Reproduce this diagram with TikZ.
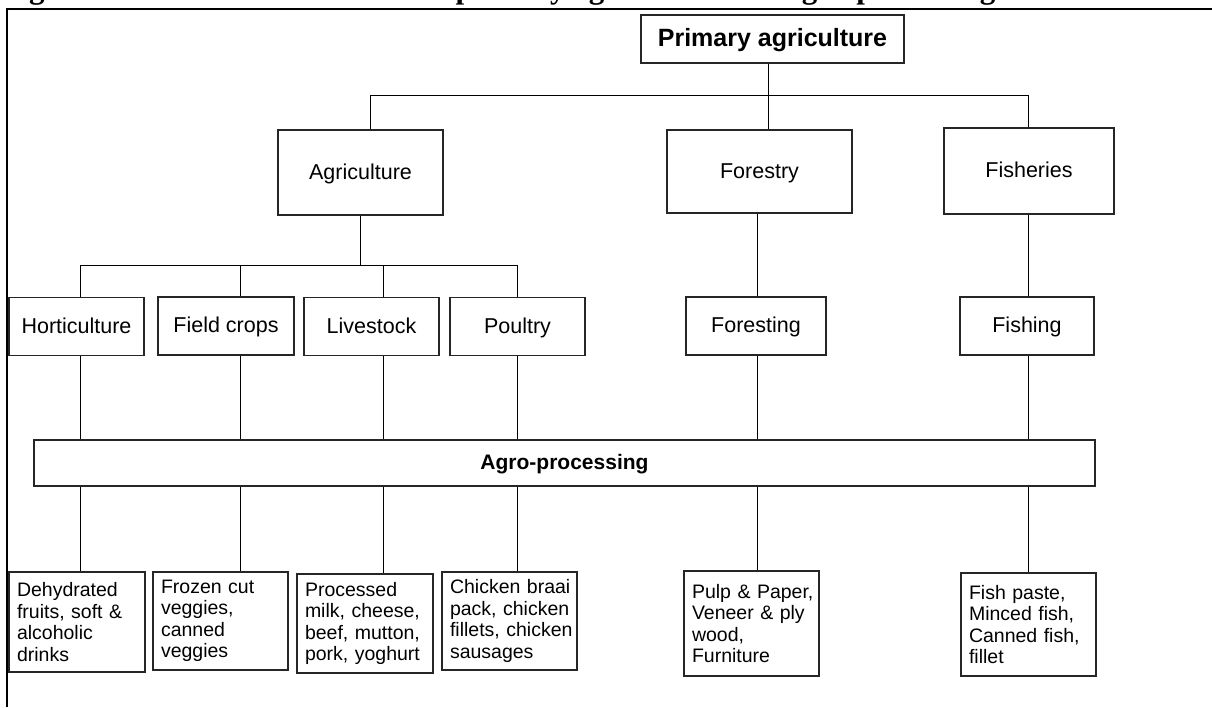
\documentclass[tikz,border=0pt]{standalone}
\usepackage{fontspec}
\setmainfont{Liberation Sans}
\newfontfamily\titlefont{Liberation Serif}
\newcommand\nohyph{\hyphenpenalty=10000\relax\exhyphenpenalty=10000\relax}
\begin{document}
\begin{tikzpicture}[x=1pt,y=-1pt,
  line width=1pt,
  box/.style={draw=black!85, line width=1.1pt, rectangle, inner sep=0pt,
    text height=15pt, text depth=1.5pt,
    font=\fontsize{21.5}{25}\selectfont},
  headbox/.style={box, font=\bfseries\fontsize{21}{25}\selectfont},
  prodbox/.style={draw=black!85, line width=1.1pt, rectangle, inner xsep=8pt,
    inner ysep=0pt, align=left,
    font=\fontsize{19.5}{21.5}\selectfont\nohyph},
  caption/.style={anchor=base west, inner sep=0pt,
    font=\titlefont\bfseries\fontsize{31}{34}\selectfont},
  link/.style={draw=black, line width=1pt}]
\useasboundingbox (0,0) rectangle (1212,707);
% caption line above the frame, cut by the top edge of the page
\begin{scope}
  \clip (0,0) rectangle (1212,8);
  \node[caption] (capa) at (1,-2) {Figure};
  \node[caption] (capb) at (455,-2) {primary agriculture and agro-processing};
\end{scope}
% page frame
\draw[line width=2.2pt] (7,707) -- (7,9) -- (1212,9);

% level 0
\node[headbox, minimum width=263pt, minimum height=48pt, text height=17pt, text depth=3pt,
  font=\bfseries\fontsize{25}{28}\selectfont] (prim) at (772.5,39) {Primary agriculture};
% level 1
\node[box, minimum width=165pt, minimum height=85pt] (agri) at (360.5,172.5) {Agriculture};
\node[box, minimum width=185pt, minimum height=83pt] (fore) at (759.5,171.5) {Forestry};
\node[box, minimum width=170pt, minimum height=86pt] (fish) at (1029,171) {Fisheries};
% level 2
\node[box, minimum width=135pt, minimum height=58pt] (hort) at (76.5,326.5) {Horticulture};
\node[box, minimum width=136pt, minimum height=58pt] (field) at (226,326) {Field crops};
\node[box, minimum width=135pt, minimum height=58pt] (live) at (371.5,326.5) {Livestock};
\node[box, minimum width=135pt, minimum height=58pt] (poul) at (517.5,326.5) {Poultry};
\node[box, minimum width=140pt, minimum height=58pt] (fring) at (756,326) {Foresting};
\node[box, minimum width=134pt, minimum height=58pt] (fshg) at (1027,326) {Fishing};
% processing bar
\node[headbox, minimum width=1061pt, minimum height=46pt] (agro) at (564.5,463) {Agro-processing};
% products
\node[prodbox, text width=120pt, minimum height=100pt] (p1) at (77,622)
  {Dehydrated\\fruits,~soft~\&\\alcoholic\\drinks};
\node[prodbox, text width=119pt, minimum height=98pt] (p2) at (220.5,621)
  {Frozen~cut\\veggies,\\canned\\veggies};
\node[prodbox, text width=120pt, minimum height=99pt] (p3) at (365,623.5)
  {Processed\\milk,~cheese,\\beef,~mutton,\\pork,~yoghurt};
\node[prodbox, text width=119pt, minimum height=98pt] (p4) at (509.5,621)
  {Chicken~braai\\pack,~chicken\\fillets,~chicken\\sausages};
\node[prodbox, text width=119pt, minimum height=105pt] (p5) at (751.5,623.5)
  {Pulp~\&~Paper,\\Veneer~\&~ply\\wood,\\Furniture};
\node[prodbox, text width=119pt, minimum height=103pt] (p6) at (1028.5,624.5)
  {Fish~paste,\\Minced~fish,\\Canned~fish,\\fillet};

% column positions of the vertical connectors
\coordinate (c1) at (80,0);
\coordinate (c2) at (240,0);
\coordinate (c3) at (383,0);
\coordinate (c4) at (517,0);
\coordinate (c5) at (757,0);
\coordinate (c6) at (1028,0);
\coordinate (t1) at (370,0);
\coordinate (t2) at (768,0);
\coordinate (ag) at (360,0);
% bus heights
\coordinate (bus0) at (0,95);
\coordinate (bus1) at (0,265);

% primary agriculture to its three sectors
\draw[link] (prim.south -| t2) -- (bus0 -| t2);
\draw[link] (agri.north -| t1) -- (bus0 -| t1) -- (bus0 -| c6) -- (fish.north -| c6);
\draw[link] (bus0 -| t2) -- (fore.north -| t2);
% agriculture to its four branches
\draw[link] (agri.south -| ag) -- (bus1 -| ag);
\draw[link] (hort.north -| c1) -- (bus1 -| c1) -- (bus1 -| c4) -- (poul.north -| c4);
\draw[link] (bus1 -| c2) -- (field.north -| c2);
\draw[link] (bus1 -| c3) -- (live.north -| c3);
\draw[link] (fore.south -| c5) -- (fring.north -| c5);
\draw[link] (fish.south -| c6) -- (fshg.north -| c6);
% branches into agro-processing
\draw[link] (hort.south -| c1) -- (agro.north -| c1);
\draw[link] (field.south -| c2) -- (agro.north -| c2);
\draw[link] (live.south -| c3) -- (agro.north -| c3);
\draw[link] (poul.south -| c4) -- (agro.north -| c4);
\draw[link] (fring.south -| c5) -- (agro.north -| c5);
\draw[link] (fshg.south -| c6) -- (agro.north -| c6);
% agro-processing to products
\draw[link] (agro.south -| c1) -- (p1.north -| c1);
\draw[link] (agro.south -| c2) -- (p2.north -| c2);
\draw[link] (agro.south -| c3) -- (p3.north -| c3);
\draw[link] (agro.south -| c4) -- (p4.north -| c4);
\draw[link] (agro.south -| c5) -- (p5.north -| c5);
\draw[link] (agro.south -| c6) -- (p6.north -| c6);
\end{tikzpicture}
\end{document}
